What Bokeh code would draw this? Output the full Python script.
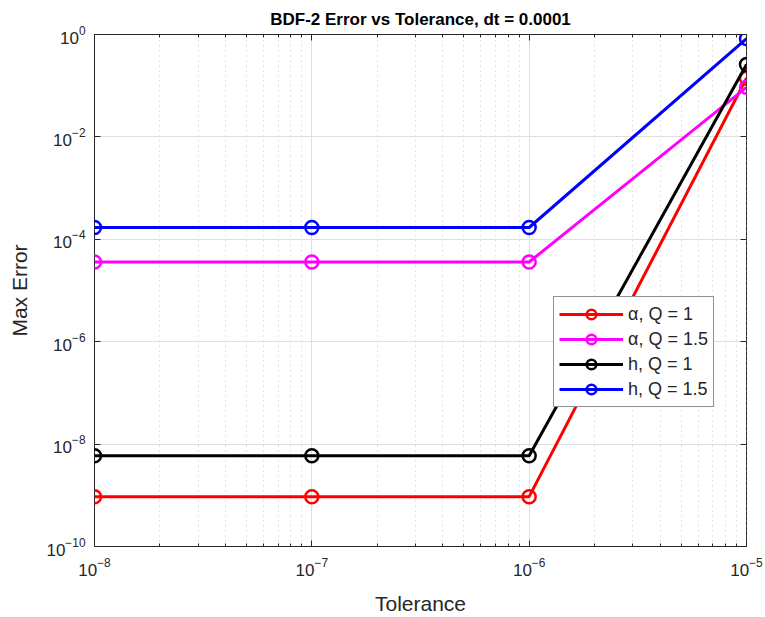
from bokeh.plotting import figure
from bokeh.models import (LogAxis, LogTicker, FixedTicker,
                          CustomJSTickFormatter, Legend, LegendItem, Range1d)
from bokeh.embed import file_html
from bokeh.resources import INLINE

# Error data for BDF-2 at dt = 1e-4
tolerance = [1e-8, 1e-7, 1e-6, 1e-5]
alpha_q1 = [9.4e-10, 9.4e-10, 9.4e-10, 0.14]
alpha_q15 = [3.6e-5, 3.6e-5, 3.6e-5, 0.093]
h_q1 = [5.9e-9, 5.9e-9, 5.9e-9, 0.26]
h_q15 = [1.7e-4, 1.7e-4, 1.7e-4, 0.83]

series = [
    ("α, Q = 1", alpha_q1, "#FF0000"),
    ("α, Q = 1.5", alpha_q15, "#FF00FF"),
    ("h, Q = 1", h_q1, "#000000"),
    ("h, Q = 1.5", h_q15, "#0000FF"),
]
y_ticks = [1e-10, 1e-8, 1e-6, 1e-4, 1e-2, 1e0]

FONT = "Liberation Sans"
TXT = "#262626"

p = figure(width=765, height=617, x_axis_type="log", y_axis_type="log",
           x_range=Range1d(1e-8, 1e-5), y_range=Range1d(1e-10, 1),
           output_backend="svg", toolbar_location=None,
           title="BDF-2 Error vs Tolerance, dt = 0.0001",
           min_border_left=94, min_border_right=19,
           min_border_top=34, min_border_bottom=70)

p.title.align = "center"
p.title.text_font = FONT
p.title.text_font_size = "17px"
p.title.text_font_style = "bold"
p.title.text_color = "#000000"
p.title.standoff = 11

p.outline_line_color = "#262626"
p.outline_line_width = 1
p.background_fill_color = "white"
p.border_fill_color = "white"

xt = LogTicker(num_minor_ticks=10)
yt = FixedTicker(ticks=y_ticks, minor_ticks=[])

for ax in p.xaxis:
    ax.ticker = xt
for ax in p.yaxis:
    ax.ticker = yt

def style_axis(ax):
    ax.axis_line_color = None
    ax.major_tick_in = 6
    ax.major_tick_out = 0
    ax.minor_tick_in = 3
    ax.minor_tick_out = 0
    ax.major_tick_line_color = TXT
    ax.minor_tick_line_color = TXT
    ax.major_label_text_font = FONT
    ax.major_label_text_font_size = "17px"
    ax.major_label_text_color = TXT
    ax.axis_label_text_font = FONT
    ax.axis_label_text_font_size = "21px"
    ax.axis_label_text_font_style = "normal"
    ax.axis_label_text_color = TXT

style_axis(p.xaxis[0])
style_axis(p.yaxis[0])
p.xaxis[0].axis_label = "Tolerance"
p.yaxis[0].axis_label = "Max Error"
p.xaxis[0].major_label_standoff = 11
p.yaxis[0].major_label_standoff = 9
p.xaxis[0].axis_label_standoff = 13
p.yaxis[0].axis_label_standoff = 12

# mirrored tick marks on the top and right edges, without labels
blank = CustomJSTickFormatter(code="return ''")
top = LogAxis(ticker=xt, formatter=blank)
right = LogAxis(ticker=yt, formatter=blank)
style_axis(top)
style_axis(right)
for ax in (top, right):
    ax.major_label_standoff = 0
    ax.major_label_text_font_size = "1px"
right.minor_tick_in = 0
p.add_layout(top, "above")
p.add_layout(right, "right")

# grid: solid major lines, dotted minor lines along x only
p.xgrid.ticker = xt
p.ygrid.ticker = yt
for g in (p.xgrid, p.ygrid):
    g.grid_line_color = "#DFDFDF"
    g.grid_line_width = 1
p.xgrid.minor_grid_line_color = "#C8C8C8"
p.xgrid.minor_grid_line_dash = "1 4"
p.xgrid.minor_grid_line_width = 1
p.ygrid.minor_grid_line_color = None

items = []
for label, vals, color in series:
    ln = p.line(tolerance, vals, line_color=color, line_width=3)
    mk = p.scatter(tolerance, vals, marker="circle", size=13,
                   fill_color=None, line_color=color, line_width=2.5)
    items.append(LegendItem(label=label, renderers=[ln, mk]))

legend = Legend(items=items, location=(459, 139))
legend.label_text_font = FONT
legend.label_text_font_size = "18px"
legend.label_text_color = TXT
legend.glyph_width = 64
legend.glyph_height = 24
legend.label_height = 24
legend.spacing = 1
legend.padding = 5
legend.margin = 0
legend.label_standoff = 5
legend.border_line_color = "#262626"
legend.border_line_width = 1
legend.background_fill_alpha = 1
p.add_layout(legend, "center")

open("out.html", "w").write(file_html(p, INLINE))
